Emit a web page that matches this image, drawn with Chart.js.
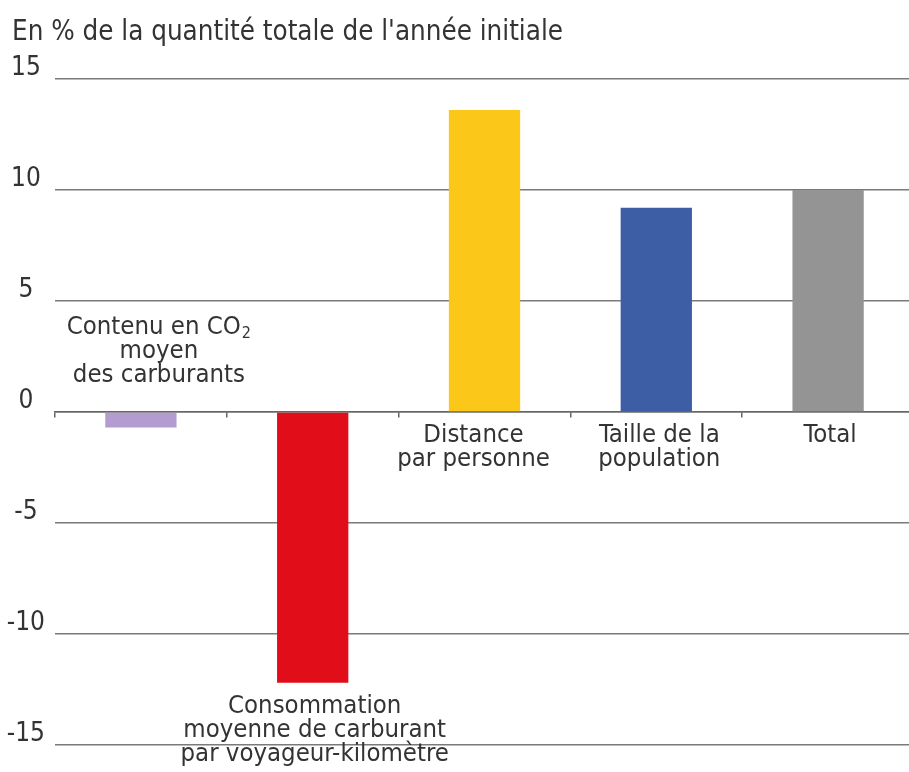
<!DOCTYPE html>
<html><head><meta charset="utf-8">
<script src="https://cdn.jsdelivr.net/npm/chart.js@4.4.1/dist/chart.umd.min.js"></script>
<style>
html,body{margin:0;padding:0;background:#fff;overflow:hidden;}
#wrap{position:relative;width:914px;height:772px;}
</style></head><body>
<div id="wrap"><canvas id="c"></canvas></div>
<script>
const titleText = "En % de la quantité totale de l'année initiale";
const categories = ['Contenu en CO2 moyen des carburants', 'Consommation moyenne de carburant par voyageur-kilomètre', 'Distance par personne', 'Taille de la population', 'Total'];
const labelLines = [
  ['Contenu en CO', 'moyen', 'des carburants'],
  ['Consommation', 'moyenne de carburant', 'par voyageur-kilomètre'],
  ['Distance', 'par personne'],
  ['Taille de la', 'population'],
  ['Total']
];
const values = [-0.7, -12.2, 13.6, 9.2, 10.0];
const barColors = ['#b39dd0', '#e10e1a', '#fbc81a', '#3d5da5', '#949494'];
const yMin = -15, yMax = 15, yStep = 5;

const FONT = '"Liberation Sans Narrow", "DejaVu Sans Condensed", "Arial Narrow", sans-serif';
const TXT = '#333333';

const labelPlugin = {
  id: 'labels',
  afterDraw(chart) {
    const ctx = chart.ctx, xs = chart.scales.x, ys = chart.scales.y;
    const dx = [18, 2, -11, 3, 2];
    ctx.save();
    ctx.fillStyle = TXT;
    ctx.textBaseline = 'alphabetic';
    // title
    ctx.font = '27.5px ' + FONT;
    ctx.textAlign = 'left';
    ctx.fillText(titleText, 12, 40);
    // category labels
    const zero = ys.getPixelForValue(0);
    const lh = 24;
    const fs = 25.5;
    labelLines.forEach((lines, i) => {
      const cx = xs.getPixelForValue(i) + dx[i];
      let base;
      if (i === 0) base = zero - 78;
      else if (values[i] < 0) base = ys.getPixelForValue(values[i]) + 30;
      else base = zero + 30;
      lines.forEach((ln, k) => {
        const y = base + k * lh;
        ctx.font = fs + 'px ' + FONT;
        if (i === 0 && k === 0) {
          const w1 = ctx.measureText(ln).width;
          ctx.font = '16px ' + FONT;
          const w2 = ctx.measureText('2').width;
          const start = cx - (w1 + w2 + 1) / 2;
          ctx.font = fs + 'px ' + FONT;
          ctx.textAlign = 'left';
          ctx.fillText(ln, start, y);
          ctx.font = '16px ' + FONT;
          ctx.fillText('2', start + w1 + 1, y + 4);
        } else {
          ctx.textAlign = 'center';
          ctx.fillText(ln, cx, y);
        }
      });
    });
    ctx.restore();
  }
};

new Chart(document.getElementById('c'), {
  type: 'bar',
  data: {
    labels: categories,
    datasets: [{
      data: values,
      backgroundColor: barColors,
      borderWidth: 0,
      categoryPercentage: 1.0,
      barPercentage: 0.415
    }]
  },
  options: {
    responsive: true,
    maintainAspectRatio: false,
    animation: false,
    events: [],
    layout: { padding: { top: 79, bottom: 27, left: 0, right: 0 } },
    plugins: { legend: { display: false }, tooltip: { enabled: false }, title: { display: false } },
    scales: {
      x: {
        position: { y: 0 },
        afterFit(s) { s.height = 0; },
        ticks: { display: false },
        grid: { drawOnChartArea: false, drawTicks: true, tickLength: 5, color: '#666', lineWidth: 1.5 },
        border: { display: true, color: '#666', width: 1.5 }
      },
      y: {
        min: yMin, max: yMax,
        afterFit(s) { s.width = 55; },
        ticks: {
          stepSize: yStep,
          font: { family: FONT, size: 26 },
          color: TXT,
          crossAlign: 'center',
          padding: 10,
          labelOffset: -11
        },
        grid: { color: '#7a7a7a', lineWidth: 1.5, drawTicks: false },
        border: { display: false }
      }
    }
  },
  plugins: [labelPlugin]
});
</script>
</body></html>
